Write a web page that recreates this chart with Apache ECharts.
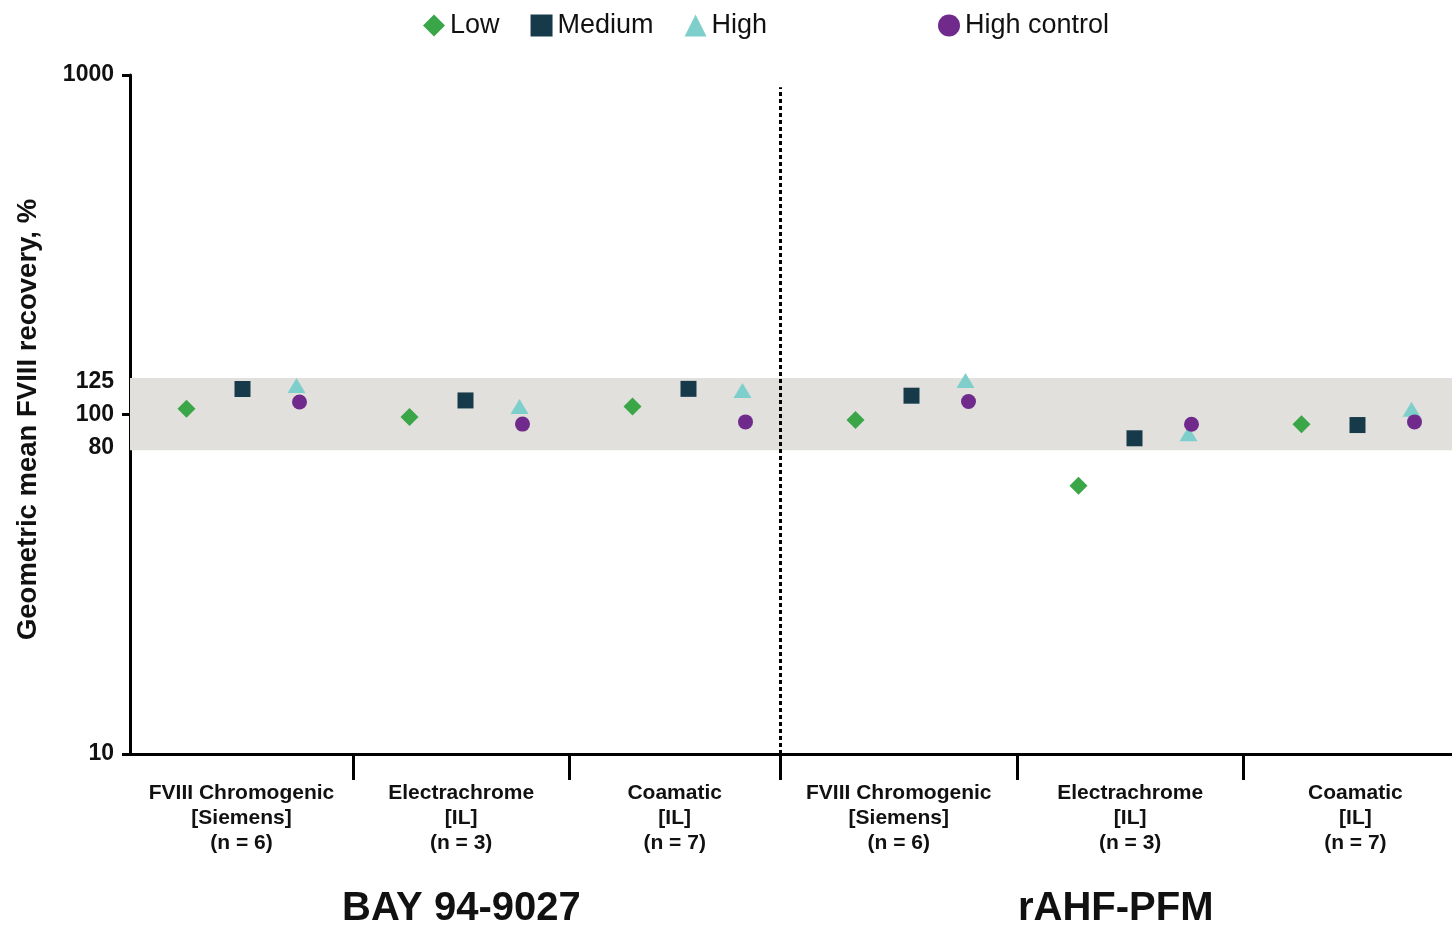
<!DOCTYPE html>
<html>
<head>
<meta charset="utf-8">
<script src="https://cdn.jsdelivr.net/npm/echarts@6/dist/echarts.min.js"></script>
<style>
  html, body { margin: 0; padding: 0; background: #fff; }
  #main { width: 1452px; height: 929px; }
</style>
</head>
<body>
<div id="main"></div>
<script>
// assay groups (3 per product)
var groupLabels = [
  'FVIII Chromogenic\n[Siemens]\n(n = 6)', 'Electrachrome\n[IL]\n(n = 3)', 'Coamatic\n[IL]\n(n = 7)',
  'FVIII Chromogenic\n[Siemens]\n(n = 6)', 'Electrachrome\n[IL]\n(n = 3)', 'Coamatic\n[IL]\n(n = 7)'
];
// group boundaries on the x axis
var groupEdges = [0, 1, 1.97, 2.915, 3.98, 4.99, 6];
var separatorAt = 2.915;

var low = [103.9, 98.3, 105.5, 96.3, 61.7, 93.6];
var medium = [118.9, 110.0, 119.0, 113.6, 85.1, 93.1];
var high = [121.7, 105.6, 117.7, 125.9, 87.7, 103.7];
var highControl = [108.8, 93.7, 95.1, 109.2, 93.6, 95.1];

var yLabels = [10, 80, 100, 125, 1000];
var band = [78.5, 128];
var products = ['BAY 94-9027', 'rAHF-PFM'];

var labelPos = [];
for (var i = 0; i < groupLabels.length; i++) {
  labelPos.push((groupEdges[i] + groupEdges[i + 1]) / 2);
}

function pts(vals) {
  return vals.map(function (v, i) { return [i + 0.5, v]; });
}

var txt = '#111';
var font = 'Arial';

var myChart = echarts.init(document.getElementById('main'));

var option = {
  animation: false,
  textStyle: { fontFamily: font },
  grid: { left: 130, right: -16, top: 75, bottom: 175, containLabel: false, outerBoundsMode: 'none' },
  legend: [
    {
      data: ['Low', 'Medium', 'High'],
      left: 418, top: 7,
      itemWidth: 22, itemHeight: 22, itemGap: 31,
      textStyle: { fontSize: 27, color: txt, fontFamily: font }
    },
    {
      data: ['High control'],
      left: 933, top: 7,
      itemWidth: 22, itemHeight: 22,
      textStyle: { fontSize: 27, color: txt, fontFamily: font }
    }
  ],
  xAxis: {
    type: 'value',
    min: 0, max: 6,
    splitLine: { show: false },
    axisLine: { lineStyle: { color: '#000', width: 3 } },
    axisTick: {
      customValues: groupEdges.slice(1, groupEdges.length - 1),
      length: 26,
      lineStyle: { color: '#000', width: 3 }
    },
    axisLabel: {
      customValues: labelPos,
      margin: 27,
      fontSize: 21, fontWeight: 'bold', color: txt, lineHeight: 25, fontFamily: font,
      formatter: function (v) {
        var best = 0;
        for (var k = 0; k < labelPos.length; k++) {
          if (Math.abs(labelPos[k] - v) < Math.abs(labelPos[best] - v)) best = k;
        }
        return groupLabels[best];
      }
    }
  },
  yAxis: {
    type: 'log',
    logBase: 10,
    min: 10, max: 1000,
    name: 'Geometric mean FVIII recovery, %',
    nameLocation: 'middle',
    nameRotate: 90,
    nameGap: 88,
    nameTextStyle: { fontSize: 27.5, fontWeight: 'bold', color: txt, fontFamily: font, padding: [0, 10, 0, 0] },
    splitLine: { show: false },
    axisLine: { show: true, lineStyle: { color: '#000', width: 3 } },
    axisTick: { length: 8, lineStyle: { color: '#000', width: 3 } },
    axisLabel: {
      customValues: yLabels,
      margin: 16,
      fontSize: 23, fontWeight: 'bold', color: txt, fontFamily: font,
      formatter: function (v) { return String(Math.round(v)); }
    }
  },
  series: [
    {
      name: 'Low', type: 'scatter',
      symbol: 'diamond', symbolSize: 18, symbolOffset: [-55, 0],
      itemStyle: { color: '#3aa648', opacity: 1 },
      data: pts(low),
      markArea: {
        silent: true,
        itemStyle: { color: '#e1e0dc' },
        data: [[{ yAxis: band[0] }, { yAxis: band[1] }]]
      },
      markLine: {
        silent: true,
        symbol: 'none',
        label: { show: false },
        lineStyle: { color: '#000', width: 3, type: [4, 3] },
        data: [[{ coord: [separatorAt, 10] }, { coord: [separatorAt, 920] }]]
      }
    },
    {
      name: 'Medium', type: 'scatter',
      symbol: 'rect', symbolSize: 16, symbolOffset: [1, 0],
      itemStyle: { color: '#163a4a', opacity: 1 },
      data: pts(medium)
    },
    {
      name: 'High', type: 'scatter',
      symbol: 'triangle', symbolSize: [18, 15], symbolOffset: [55, 0],
      itemStyle: { color: '#7ecfcb', opacity: 1 },
      data: pts(high)
    },
    {
      name: 'High control', type: 'scatter',
      symbol: 'circle', symbolSize: 15, symbolOffset: [58, 0],
      itemStyle: { color: '#6f2a8c', opacity: 1 },
      data: pts(highControl)
    }
  ],
  graphic: [
    {
      type: 'text', left: 342, top: 889,
      style: { text: products[0], fontSize: 40, fontWeight: 'bold', fill: txt, fontFamily: font }
    },
    {
      type: 'text', left: 1018, top: 889,
      style: { text: products[1], fontSize: 40, fontWeight: 'bold', fill: txt, fontFamily: font }
    }
  ]
};

myChart.setOption(option);
</script>
</body>
</html>
